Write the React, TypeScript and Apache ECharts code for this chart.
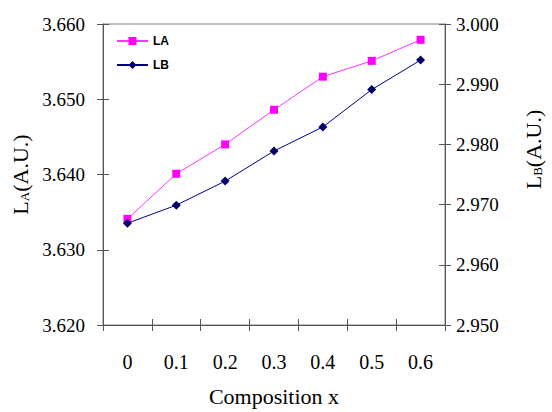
import React, { useEffect, useRef } from "react";
import * as echarts from "echarts";

const categories = ["0", "0.1", "0.2", "0.3", "0.4", "0.5", "0.6"];
const laValues = [3.6341, 3.6401, 3.644, 3.6486, 3.653, 3.6551, 3.6579];
const lbValues = [2.9669, 2.9699, 2.9739, 2.9789, 2.9829, 2.9891, 2.994];
const leftTicks = { min: 3.62, max: 3.66, interval: 0.01 };
const rightTicks = { min: 2.95, max: 3.0, interval: 0.01 };

const serif = "'Liberation Serif', 'Times New Roman', serif";
const axisColor = "#555555";

export default function App() {
  const ref = useRef<HTMLDivElement>(null);
  useEffect(() => {
    if (!ref.current) return;
    const chart = echarts.init(ref.current, undefined, { renderer: "svg" });
    const nameRich = {
      sub: { fontSize: 13, fontFamily: serif, color: "#000", verticalAlign: "bottom", padding: [8, 0, 0, 0] },
    };
    const yBase = (pos: "left" | "right", t: typeof leftTicks) => ({
      type: "value" as const,
      position: pos,
      min: t.min,
      max: t.max,
      interval: t.interval,
      splitLine: { show: false },
    });
    chart.setOption({
      animation: false,
      backgroundColor: "#ffffff",
      grid: {
        left: 103,
        right: 90,
        top: 24,
        bottom: 80,
        show: true,
        borderColor: "#808080",
        borderWidth: 1,
      },
      legend: {
        orient: "vertical",
        left: 111,
        top: 30,
        itemWidth: 31,
        itemHeight: 10,
        itemGap: 12,
        textStyle: { fontFamily: "'Liberation Sans', Arial, sans-serif", fontWeight: "bold", fontSize: 12, color: "#000" },
        data: ["LA", "LB"],
      },
      xAxis: [
        {
          type: "category",
          position: "bottom",
          data: categories,
          boundaryGap: true,
          axisLine: { lineStyle: { color: axisColor, width: 1 } },
          axisTick: { show: true, interval: 0, length: 6, lineStyle: { color: axisColor } },
          axisLabel: { margin: 27, fontFamily: serif, fontSize: 20, color: "#000" },
          name: "Composition x",
          nameLocation: "middle",
          nameGap: 60,
          nameTextStyle: { fontFamily: serif, fontSize: 22, color: "#000" },
        },
        {
          type: "category",
          position: "bottom",
          data: categories,
          boundaryGap: true,
          axisLine: { show: false },
          axisTick: { show: true, inside: true, interval: 0, length: 6, lineStyle: { color: axisColor } },
          axisLabel: { show: false },
        },
      ],
      yAxis: [
        {
          ...yBase("left", leftTicks),
          axisLine: { show: true, lineStyle: { color: axisColor, width: 1 } },
          axisTick: { show: true, length: 6, lineStyle: { color: axisColor } },
          axisLabel: { margin: 18, fontFamily: serif, fontSize: 19, color: "#000", formatter: (v: number) => v.toFixed(3) },
          name: "L{sub|A}(A.U.)",
          nameLocation: "middle",
          nameRotate: 90,
          nameGap: 68,
          nameTextStyle: { fontFamily: serif, fontSize: 22, color: "#000", rich: nameRich },
        },
        {
          ...yBase("right", rightTicks),
          axisLine: { show: true, lineStyle: { color: axisColor, width: 1 } },
          axisTick: { show: true, length: 6, lineStyle: { color: axisColor } },
          axisLabel: { margin: 11, fontFamily: serif, fontSize: 19, color: "#000", formatter: (v: number) => v.toFixed(3) },
          name: "L{sub|B}(A.U.)",
          nameLocation: "middle",
          nameRotate: 90,
          nameGap: 77,
          nameTextStyle: { fontFamily: serif, fontSize: 22, color: "#000", rich: nameRich, padding: [0, 0, 0, 50] },
        },
        {
          ...yBase("left", leftTicks),
          axisLine: { show: false },
          axisTick: { show: true, inside: true, length: 6, lineStyle: { color: axisColor } },
          axisLabel: { show: false },
        },
        {
          ...yBase("right", rightTicks),
          axisLine: { show: false },
          axisTick: { show: true, inside: true, length: 6, lineStyle: { color: axisColor } },
          axisLabel: { show: false },
        },
      ],
      series: [
        {
          name: "LA",
          type: "line",
          xAxisIndex: 0,
          yAxisIndex: 0,
          data: laValues,
          symbol: "rect",
          symbolSize: 8,
          lineStyle: { color: "#ff33ff", width: 1 },
          itemStyle: { color: "#ff00ff" },
        },
        {
          name: "LB",
          type: "line",
          xAxisIndex: 0,
          yAxisIndex: 1,
          data: lbValues,
          symbol: "diamond",
          symbolSize: 9,
          lineStyle: { color: "#000080", width: 1 },
          itemStyle: { color: "#000066" },
        },
      ],
    });
    return () => chart.dispose();
  }, []);
  return <div ref={ref} style={{ position: "fixed", left: 0, top: 0, width: 552, height: 412 }} />;
}
